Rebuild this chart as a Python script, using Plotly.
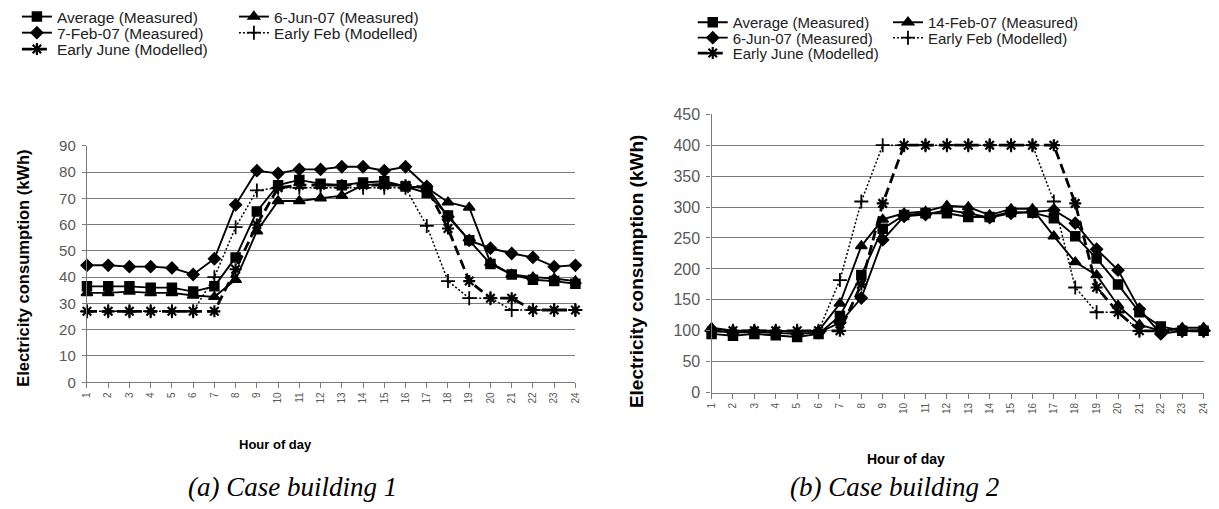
import plotly.graph_objects as go

# ---------------- data ----------------
hours = list(range(1, 25))

# Case building 1
b1_average = [36.5, 36.5, 36.5, 36, 36, 34.5, 36.5, 47.5, 65, 75, 77, 75.5, 75, 76, 76.5, 74.5, 72, 63.5, 54, 45, 41, 39, 38.5, 37.5]
b1_jun6 = [34, 34, 34.5, 34, 34, 33, 32.5, 39, 57.5, 69, 69, 70, 71, 75, 75.5, 74.5, 74, 68.5, 66.5, 45.5, 41, 40, 39.5, 38.5]
b1_feb7 = [44.5, 44.5, 44, 44, 43.5, 41, 47, 67.5, 80.5, 79.5, 81, 81, 82, 82, 80.5, 82, 74.5, 63, 54, 51, 49, 47.5, 44, 44.5]
b1_early_feb = [27, 27, 27, 27, 27, 27, 40, 59, 73, 74, 74, 74, 74, 74, 74, 74, 59.5, 38.5, 32, 32, 27.5, 27.5, 27.5, 27.5]
b1_early_june = [27, 27, 27, 27, 27, 27, 27, 43, 60, 74, 75, 75, 75, 75, 75, 75, 74, 58.5, 38.5, 32, 32, 27.5, 27.5, 27.5]

# Case building 2
b2_average = [95, 92, 95, 93, 90, 95, 124, 190, 265, 287, 290, 290, 284, 284, 292, 291, 282, 253, 217, 175, 130, 107, 100, 100]
b2_feb14 = [105, 100, 100, 100, 98, 100, 144, 237, 280, 290, 293, 302, 300, 287, 297, 297, 253, 211, 190, 141, 110, 100, 105, 105]
b2_jun6 = [100, 97, 98, 97, 95, 97, 113, 153, 247, 285, 288, 295, 290, 283, 290, 292, 295, 274, 232, 198, 135, 95, 100, 100]
b2_early_feb = [100, 100, 100, 100, 100, 100, 182, 309, 400, 400, 400, 400, 400, 400, 400, 400, 309, 170, 130, 130, 100, 100, 100, 100]
b2_early_june = [100, 100, 100, 100, 100, 100, 100, 175, 306, 400, 400, 400, 400, 400, 400, 400, 400, 306, 170, 130, 100, 100, 100, 100]

b1_yticks = [0, 10, 20, 30, 40, 50, 60, 70, 80, 90]
b2_yticks = [0, 50, 100, 150, 200, 250, 300, 350, 400, 450]

y_title = "Electricity consumption (kWh)"
x_title = "Hour of day"
captions = ["(a) Case building 1", "(b) Case building 2"]

# ---------------- figure ----------------
W, H = 1219, 509
FONT = "Liberation Sans, Arial, sans-serif"
fig = go.Figure()

def px(x):
    return x / W

def py(y):
    return 1 - y / H

def add(xax, yax, y, name, symbol, size, dash, lw, legend, mlw=1.5):
    fig.add_trace(go.Scatter(
        x=hours, y=y, name=name, mode="lines+markers",
        xaxis=xax, yaxis=yax, legend=legend, cliponaxis=False,
        line=dict(color="black", width=lw, dash=dash),
        marker=dict(symbol=symbol, size=size, color="black",
                    line=dict(color="black", width=mlw)),
    ))

# building 1 traces
add("x", "y", b1_average, "Average (Measured)", "square", 9, "solid", 1.9, "legend2")
add("x", "y", b1_jun6, "6-Jun-07 (Measured)", "triangle-up", 10, "solid", 1.9, "legend3")
add("x", "y", b1_feb7, "7-Feb-07 (Measured)", "diamond", 9, "solid", 1.9, "legend4")
add("x", "y", b1_early_feb, "Early Feb (Modelled)", "cross-thin-open", 10, "2px,2px", 1.5, "legend5", 1.8)
add("x", "y", b1_early_june, "Early June (Modelled)", "asterisk-open", 10, "10px,5px", 2.8, "legend6", 2.2)

# building 2 traces
add("x2", "y2", b2_average, "Average (Measured)", "square", 9, "solid", 1.9, "legend7")
add("x2", "y2", b2_feb14, "14-Feb-07 (Measured)", "triangle-up", 10, "solid", 1.9, "legend8")
add("x2", "y2", b2_jun6, "6-Jun-07 (Measured)", "diamond", 9, "solid", 1.9, "legend9")
add("x2", "y2", b2_early_feb, "Early Feb (Modelled)", "cross-thin-open", 10, "2px,2px", 1.5, "legend10", 1.8)
add("x2", "y2", b2_early_june, "Early June (Modelled)", "asterisk-open", 10, "10px,5px", 2.8, "legend11", 2.2)

GRID = "#7a7a7a"
AX = "#7a7a7a"
TICKC = "#595959"

def xaxis_cfg(domain, size):
    return dict(domain=domain, range=[1, 24], tickmode="array", tickvals=hours,
                ticktext=[str(h) for h in hours], tickangle=-90,
                tickfont=dict(family=FONT, size=size, color=TICKC),
                ticks="outside", ticklen=5, tickcolor=AX, tickwidth=1,
                showline=True, linecolor=AX, linewidth=1.4,
                showgrid=False, zeroline=False, fixedrange=True)

def yaxis_cfg(domain, anchor, rng, tv, size):
    return dict(domain=domain, anchor=anchor, range=rng, tickmode="array", tickvals=tv,
                tickfont=dict(family=FONT, size=size, color=TICKC),
                ticks="outside", ticklen=4, tickcolor=AX, ticklabelstandoff=3,
                showline=True, linecolor=AX, linewidth=1.4,
                showgrid=True, gridcolor=GRID, gridwidth=1.4,
                zeroline=False, fixedrange=True)

fig.update_layout(
    width=W, height=H, margin=dict(l=0, r=0, t=0, b=0),
    paper_bgcolor="white", plot_bgcolor="white",
    font=dict(family=FONT, color="#222"),
    showlegend=True,
    xaxis=dict(**xaxis_cfg([px(81.7), px(574.6)], 10), anchor="y"),
    yaxis=yaxis_cfg([1 - 386.7 / H, 1 - 141 / H], "x", [0, 90], b1_yticks, 15),
    xaxis2=dict(**xaxis_cfg([px(712), px(1208.5)], 10), anchor="y2"),
    yaxis2=yaxis_cfg([1 - 397.5 / H, 1 - 108.3 / H], "x2", [0, 450], b2_yticks, 16),
)

# legends, one entry per legend box, laid out like the original two-column key
leg_pos = {
    "legend2": (11, 7, 15.5), "legend3": (230, 7, 15.5),
    "legend4": (11, 24, 15.5), "legend5": (230, 24, 15.5),
    "legend6": (11, 41, 15.5),
    "legend7": (693, 13, 15), "legend8": (890, 13, 15),
    "legend9": (693, 29, 15), "legend10": (890, 29, 15),
    "legend11": (693, 45, 15),
}
for key, (lx, ly, fs) in leg_pos.items():
    fig.update_layout({key: dict(x=px(lx), y=py(ly), xanchor="left", yanchor="middle",
                                 orientation="h", bgcolor="rgba(0,0,0,0)",
                                 borderwidth=0, font=dict(family=FONT, size=fs, color="#222"),
                                 itemclick=False, itemdoubleclick=False)})

ann = []
# axis titles
ann.append(dict(x=px(17), y=py(268), text="<b>" + y_title + "</b>", textangle=-90,
                font=dict(family=FONT, size=16.5, color="black")))
ann.append(dict(x=px(637), y=py(272), text="<b>" + y_title + "</b>", textangle=-90,
                font=dict(family=FONT, size=19, color="black")))
ann.append(dict(x=px(272), y=py(451), text="<b>" + x_title + "</b>",
                font=dict(family=FONT, size=13, color="black")))
ann.append(dict(x=px(908), y=py(466), text="<b>" + x_title + "</b>",
                font=dict(family=FONT, size=14, color="black")))
# captions
ann.append(dict(x=px(289), y=py(495), text="<i>" + captions[0] + "</i>",
                font=dict(family="Liberation Serif, Times New Roman, serif", size=27, color="black")))
ann.append(dict(x=px(897), y=py(495), text="<i>" + captions[1] + "</i>",
                font=dict(family="Liberation Serif, Times New Roman, serif", size=27, color="black")))
for a in ann:
    a.update(xref="paper", yref="paper", showarrow=False, xanchor="center", yanchor="middle")
fig.update_layout(annotations=ann)

fig.write_html("out.html")
